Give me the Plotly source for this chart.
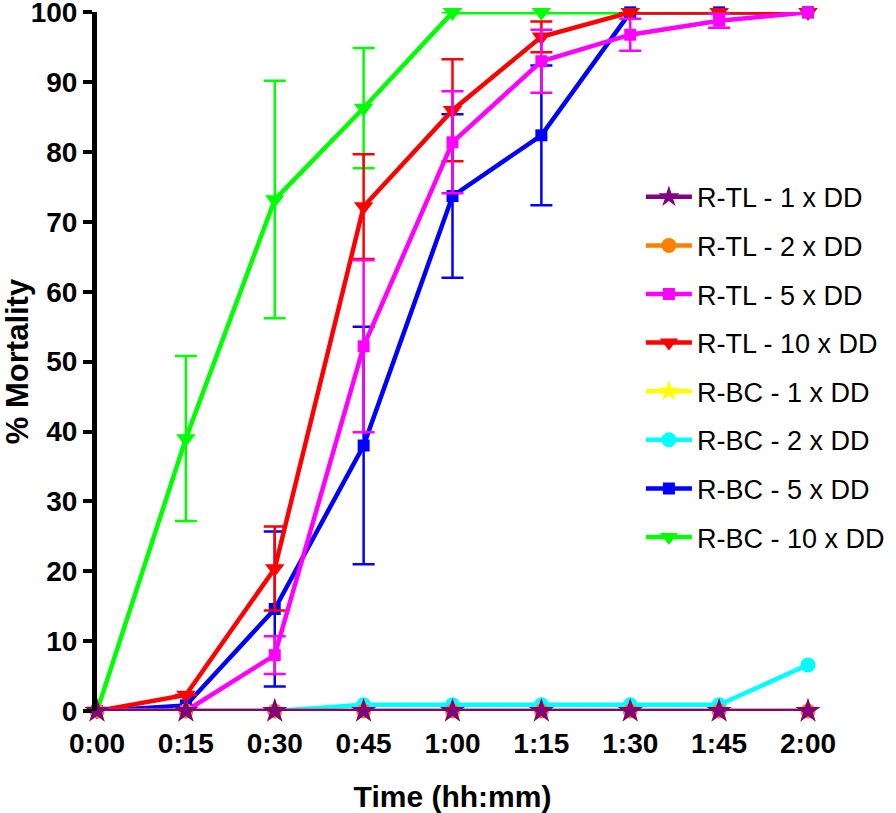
import plotly.graph_objects as go

time_labels = ["0:00", "0:15", "0:30", "0:45", "1:00", "1:15", "1:30", "1:45", "2:00"]
minutes = [0, 15, 30, 45, 60, 75, 90, 105, 120]

rtl1 = [0, 0, 0, 0, 0, 0, 0, 0, 0]
rtl2 = [0, 0, 0, 0, 0, 0, 0, 0, 0]
rtl5 = [0, 0, 8.0, 52.2, 81.4, 93.0, 96.8, 98.8, 100]
rtl5_err = [0, 0, 2.7, 12.3, 7.3, 4.5, 2.3, 1.0, 0]
rtl10 = [0, 2.3, 20.4, 72.2, 86.0, 96.5, 100, 100, 100]
rtl10_err = [0, 0, 6.0, 7.5, 7.3, 2.2, 0, 0, 0]
rbc1 = [0, 0, 0, 0, 0, 0, 0, 0, 0]
rbc2 = [0, 0, 0, 0.9, 0.9, 0.9, 0.9, 0.9, 6.6]
rbc5 = [0, 0.8, 14.6, 38.0, 73.7, 82.4, 100, 100, 100]
rbc5_err = [0, 0, 11.1, 17.0, 11.7, 10.0, 0, 0, 0]
rbc10 = [0, 39.0, 73.2, 86.3, 100, 100, 100, 100, 100]
rbc10_err = [0, 11.8, 17.0, 8.6, 0, 0, 0, 0, 0]

series = [
    ("R-TL - 1 x DD", rtl1, None, "#800080", "star", 19),
    ("R-TL - 2 x DD", rtl2, None, "#FF8000", "circle", 15),
    ("R-TL - 5 x DD", rtl5, rtl5_err, "#FF00FF", "square", 12),
    ("R-TL - 10 x DD", rtl10, rtl10_err, "#FF0000", "triangle-down", 17),
    ("R-BC - 1 x DD", rbc1, None, "#FFFF00", "star", 19),
    ("R-BC - 2 x DD", rbc2, None, "#00FFFF", "circle", 15),
    ("R-BC - 5 x DD", rbc5, rbc5_err, "#0000FF", "square", 12),
    ("R-BC - 10 x DD", rbc10, rbc10_err, "#00FF00", "triangle-down", 17),
]

fig = go.Figure()
# draw in reverse so the first series sits on top
for i, (name, vals, err, color, sym, size) in reversed(list(enumerate(series))):
    kw = {}
    if err is not None:
        kw["error_y"] = dict(type="data", array=err, visible=True, color=color,
                             thickness=2.5, width=11)
    fig.add_trace(go.Scatter(
        x=minutes, y=vals, name=name, mode="lines+markers",
        line=dict(color=color, width=4.5),
        marker=dict(symbol=sym, size=size, color=color, line=dict(width=0)),
        cliponaxis=False, legendgroup=f"g{i}", legendrank=i + 1,
        **kw))

fig.update_layout(
    width=896, height=813,
    margin=dict(l=97, r=88, t=12, b=102, autoexpand=False),
    paper_bgcolor="white", plot_bgcolor="white",
    font=dict(family="Liberation Sans, Arial, sans-serif", color="black"),
    showlegend=True,
    legend=dict(x=0.765, xanchor="left", y=0.77, yanchor="top",
                font=dict(size=27, color="black"),
                bgcolor="rgba(0,0,0,0)", tracegroupgap=10.5,
                itemwidth=46),
    xaxis=dict(range=[0, 120], tickvals=minutes, ticktext=time_labels,
               showgrid=False, zeroline=False, showline=False,
               ticks="outside", ticklen=7, tickcolor="rgba(0,0,0,0)",
               tickfont=dict(size=28, weight="bold"), automargin=False,
               ticklabeloverflow="allow",
               title=dict(text="Time (hh:mm)", font=dict(size=30, weight="bold"),
                          standoff=28)),
    yaxis=dict(range=[0, 100.05], tickvals=list(range(0, 101, 10)),
               showgrid=False, zeroline=False, showline=True,
               linecolor="black", linewidth=5,
               ticks="outside", ticklen=9, tickwidth=4, tickcolor="black",
               tickfont=dict(size=28, weight="bold"), automargin=False,
               ticklabeloverflow="allow",
               title=dict(text="% Mortality", font=dict(size=31, weight="bold"),
                          standoff=0)),
)

fig.write_html("out.html", config={"displayModeBar": False},
               post_script="document.body.style.margin='0';")
